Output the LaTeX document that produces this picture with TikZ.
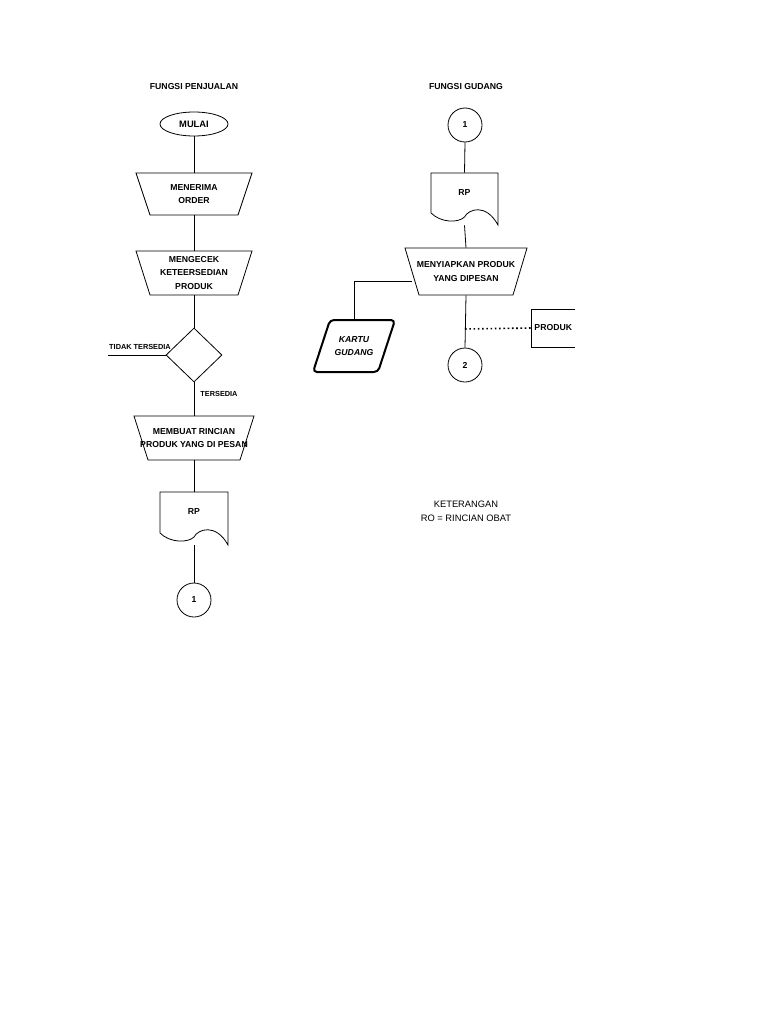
\documentclass[tikz,border=0pt]{standalone}
\usepackage{fontspec}
\setmainfont{Liberation Sans}
\usetikzlibrary{shapes.geometric}
\begin{document}
\begin{tikzpicture}[x=0.75pt,y=-0.75pt,
  lbl/.style={font=\fontsize{6.5}{8}\selectfont\bfseries,align=center,inner sep=0},
  box/.style={draw=none,inner sep=0,font=\fontsize{6.5}{10}\selectfont\bfseries,align=center},
  ln/.style={draw,line width=0.6pt}]
\useasboundingbox (0,0) rectangle (768,1024);
\newcommand{\mytrap}[7]{%
  \node[box,minimum width={2*#5*0.75pt},minimum height={(#4-#3)*0.75pt}] (#1) at (#2,{(#3+#4)/2}) {#7};
  \draw[ln] (#2-#5,#3)--(#2+#5,#3)--(#2+#6,#4)--(#2-#6,#4)--cycle;}
\newcommand{\mydoc}[6]{%
  \node[box,minimum width={(#3-#2)*0.75pt},minimum height={(#5-#4)*0.75pt}] (#1) at ({(#2+#3)/2},{(#4+#5)/2}) {};
  \node[box] at ({(#2+#3)/2},{#4+20}) {#6};
  \draw[ln] (#2,{#5-12})--(#2,#4)--(#3,#4)--(#3,#5) .. controls ({#3-12},{#5-22}) and ({(#2+#3)/2+4},{#5-16}) .. ({(#2+#3)/2},{#5-8}) .. controls ({(#2+#3)/2-6},{#5-2}) and ({#2+10},{#5-2}) .. (#2,{#5-12});}
\tikzset{circ/.style={circle,draw,line width=0.6pt,minimum size=25.5pt,inner sep=0,font=\fontsize{6.5}{8}\selectfont\bfseries}}

\node[lbl] (t1) at (194,87) {FUNGSI PENJUALAN};
\node[lbl] (t2) at (466,87) {FUNGSI GUDANG};

% left column
\node[ellipse,draw,line width=0.6pt,minimum width=51pt,minimum height=18pt,inner sep=0,font=\fontsize{7}{8}\selectfont\bfseries] (mulai) at (194,124) {MULAI};
\mytrap{terima}{194}{173}{215}{58}{44}{MENERIMA\\ORDER}
\mytrap{cek}{194}{251}{295}{58}{44}{MENGECEK\\KETEERSEDIAN\\PRODUK}
\node[diamond,draw,line width=0.6pt,minimum width=42pt,minimum height=40.5pt,inner sep=0] (dia) at (194,355) {};
\mytrap{rinci}{194}{416}{460}{60}{46}{MEMBUAT RINCIAN\\PRODUK YANG DI PESAN}
\mydoc{rp1}{160}{228}{492}{545}{RP}
\node[circ] (c1) at (194,600) {1};
\coordinate (tdk) at (108,355);
\node[lbl,font=\fontsize{5.5}{7}\selectfont\bfseries] at (140,347) {TIDAK TERSEDIA};
\node[lbl,font=\fontsize{5.5}{7}\selectfont\bfseries] at (219,394) {TERSEDIA};

\draw[ln] (mulai.south)--(terima.north);
\draw[ln] (terima.south)--(cek.north);
\draw[ln] (cek.south)--(dia.north);
\draw[ln] (dia.south)--(rinci.north);
\draw[ln] (rinci.south)--(rp1.north);
\draw[ln] (rp1.south)--(c1.north);
\draw[ln] (dia.west)--(tdk);

% right column
\node[circ] (c1b) at (465,125) {1};
\mydoc{rp2}{431}{498}{173}{225}{RP}
\mytrap{siap}{466}{248}{295}{61}{47}{MENYIAPKAN PRODUK\\YANG DIPESAN}
\node[circ] (c2) at (465,365) {2};
\node[box,minimum width=60pt,minimum height=39pt] (kartu) at (354,346) {};
\draw[line width=1.5pt,rounded corners=3pt] (330,320)--(395,320)--(378,372)--(313,372)--cycle;
\node[box,font=\fontsize{6.5}{10}\selectfont\bfseries\itshape] at (354,346) {KARTU\\GUDANG};
\node[box,minimum width=33pt,minimum height=28.5pt,anchor=west] (produk) at (531,328) {PRODUK};
\draw[ln] (575,309)--(531,309)--(531,347)--(575,347);
\coordinate (j) at (465,329);

\draw[ln] (c1b.south)--(rp2.north);
\draw[ln] (rp2.south)--(siap.north);
\draw[ln] (siap.south)--(c2.north);
\draw[ln] (412,281)-|(kartu.north);
\draw[line width=1.2pt,dotted] (j)--(produk.west);

\node[align=center,font=\fontsize{7}{10.5}\selectfont] (ket) at (466,511) {KETERANGAN\\RO = RINCIAN OBAT};
\end{tikzpicture}
\end{document}
